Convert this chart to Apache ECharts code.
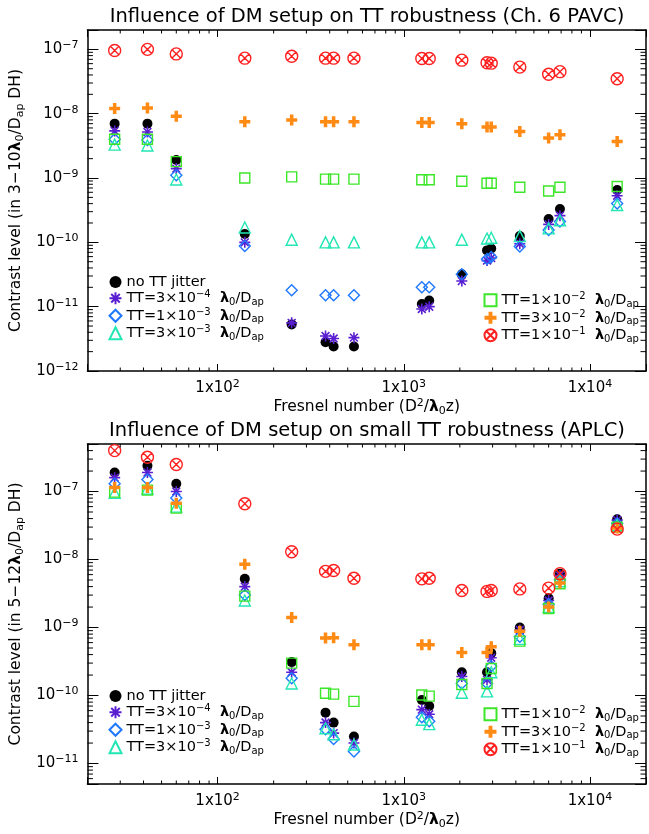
<!DOCTYPE html>
<html><head><meta charset="utf-8">
<script src="https://cdn.jsdelivr.net/npm/echarts@6/dist/echarts.min.js"></script>
<style>html,body{margin:0;padding:0;background:#fff}#c{width:649px;height:834px}</style>
</head><body><div id="c"></div>
<script>
// ---------- data ----------
const fresnel = [28, 42, 60, 140, 250, 380, 420, 540, 1250, 1370, 2050, 2800, 2950, 4200, 6000, 6900, 14000];
const seriesNames = ['no TT jitter', 'TT=3e-4', 'TT=1e-3', 'TT=3e-3', 'TT=1e-2', 'TT=3e-2', 'TT=1e-1'];

// Top panel (Ch. 6 PAVC)
const pavcNoTT  = [7.0e-9, 7.0e-9, 1.9e-9, 1.35e-10, 5.3e-12, 2.8e-12, 2.4e-12, 2.4e-12, 1.1e-11, 1.25e-11, 3.2e-11, 7.5e-11, 8.0e-11, 1.25e-10, 2.3e-10, 3.3e-10, 6.5e-10];
const pavcTT3e4 = [5.4e-9, 5.2e-9, 1.4e-9, 1.0e-10, 5.6e-12, 3.5e-12, 3.2e-12, 3.3e-12, 9.2e-12, 1.0e-11, 2.5e-11, 5.2e-11, 5.7e-11, 9.5e-11, 1.9e-10, 2.6e-10, 5.3e-10];
const pavcTT1e3 = [4.0e-9, 3.9e-9, 1.1e-9, 8.8e-11, 1.8e-11, 1.5e-11, 1.5e-11, 1.5e-11, 2.0e-11, 2.0e-11, 3.2e-11, 5.5e-11, 5.9e-11, 8.6e-11, 1.55e-10, 2.1e-10, 4.0e-10];
const pavcTT3e3 = [3.3e-9, 3.2e-9, 9.5e-10, 1.7e-10, 1.1e-10, 1.0e-10, 1.0e-10, 1.0e-10, 1.0e-10, 1.0e-10, 1.1e-10, 1.15e-10, 1.18e-10, 1.25e-10, 1.65e-10, 2.2e-10, 3.8e-10];
const pavcTT1e2 = [4.0e-9, 4.0e-9, 1.8e-9, 1.0e-9, 1.04e-9, 9.6e-10, 9.6e-10, 9.6e-10, 9.4e-10, 9.4e-10, 8.9e-10, 8.3e-10, 8.3e-10, 7.2e-10, 6.3e-10, 7.2e-10, 7.4e-10];
const pavcTT3e2 = [1.2e-8, 1.23e-8, 9.1e-9, 7.5e-9, 8.0e-9, 7.5e-9, 7.5e-9, 7.5e-9, 7.3e-9, 7.3e-9, 7.0e-9, 6.2e-9, 6.2e-9, 5.3e-9, 4.2e-9, 4.7e-9, 3.7e-9];
const pavcTT1e1 = [9.6e-8, 1.0e-7, 8.5e-8, 7.3e-8, 7.8e-8, 7.3e-8, 7.3e-8, 7.3e-8, 7.2e-8, 7.2e-8, 6.8e-8, 6.2e-8, 6.1e-8, 5.3e-8, 4.1e-8, 4.5e-8, 3.5e-8];

// Bottom panel (APLC)
const aplcNoTT  = [1.9e-7, 2.4e-7, 1.3e-7, 5.2e-9, 3.1e-10, 5.6e-11, 4.0e-11, 2.5e-11, 8.6e-11, 7.0e-11, 2.2e-10, 2.2e-10, 4.2e-10, 1.0e-9, 2.7e-9, 6.2e-9, 3.9e-8];
const aplcTT3e4 = [1.6e-7, 1.9e-7, 1.0e-7, 4.0e-9, 2.2e-10, 4.0e-11, 2.8e-11, 2.0e-11, 6.2e-11, 5.3e-11, 1.9e-10, 1.7e-10, 3.6e-10, 9.2e-10, 2.5e-9, 5.8e-9, 3.8e-8];
const aplcTT1e3 = [1.3e-7, 1.5e-7, 8.0e-8, 3.0e-9, 1.8e-10, 3.2e-11, 2.3e-11, 1.5e-11, 4.8e-11, 4.2e-11, 1.5e-10, 1.5e-10, 2.7e-10, 7.3e-10, 2.2e-9, 5.0e-9, 3.4e-8];
const aplcTT3e3 = [9.6e-8, 1.1e-7, 6.0e-8, 2.5e-9, 1.5e-10, 3.3e-11, 2.7e-11, 1.9e-11, 4.4e-11, 3.8e-11, 1.1e-10, 1.15e-10, 2.2e-10, 6.8e-10, 2.0e-9, 4.8e-9, 3.2e-8];
const aplcTT1e2 = [9.8e-8, 1.05e-7, 5.7e-8, 2.9e-9, 3.0e-10, 1.08e-10, 1.05e-10, 8.2e-11, 1.02e-10, 9.8e-11, 1.45e-10, 1.5e-10, 2.5e-10, 6.3e-10, 1.9e-9, 4.4e-9, 3.0e-8];
const aplcTT3e2 = [1.15e-7, 1.15e-7, 6.7e-8, 8.5e-9, 1.4e-9, 7.0e-10, 7.1e-10, 5.6e-10, 5.6e-10, 5.6e-10, 4.3e-10, 4.3e-10, 5.2e-10, 8.8e-10, 2.0e-9, 4.5e-9, 2.9e-8];
const aplcTT1e1 = [4.0e-7, 3.2e-7, 2.5e-7, 6.6e-8, 1.3e-8, 6.7e-9, 6.9e-9, 5.3e-9, 5.2e-9, 5.3e-9, 3.5e-9, 3.4e-9, 3.5e-9, 3.7e-9, 3.8e-9, 6.2e-9, 2.8e-8];

// Axis ranges
const xRange = [20, 20000];
const yRangeTop = [1e-12, 2e-7];
const yRangeBottom = [5e-12, 5e-7];

// ---------- styling ----------
const FONT = 'DejaVu Sans';
const colors = ['#000000', '#5A1ED2', '#1E78FF', '#22E6B4', '#3CE628', '#FF8A14', '#FF2020'];
const P_AST = 'path://M0,-10L0,10M-10,0L10,0M-7.1,-7.1L7.1,7.1M7.1,-7.1L-7.1,7.1';
const P_PLUS = 'path://M-3.2,-10L3.2,-10L3.2,-3.2L10,-3.2L10,3.2L3.2,3.2L3.2,10L-3.2,10L-3.2,3.2L-10,3.2L-10,-3.2L-3.2,-3.2Z';
const P_OTIMES = 'path://M10,0A10,10,0,1,1,-10,0A10,10,0,1,1,10,0ZM-6.6,-6.6L6.6,6.6M6.6,-6.6L-6.6,6.6';
const symbolDefs = [
  {symbol: 'circle', size: 10, itemStyle: {color: colors[0], opacity: 1}},
  {symbol: P_AST, size: 11, itemStyle: {color: 'none', borderColor: colors[1], borderWidth: 1.6, opacity: 1}},
  {symbol: 'diamond', size: 11, itemStyle: {color: 'none', borderColor: colors[2], borderWidth: 1.4, opacity: 1}},
  {symbol: 'triangle', size: 11, itemStyle: {color: 'none', borderColor: colors[3], borderWidth: 1.4, opacity: 1}},
  {symbol: 'rect', size: 10, itemStyle: {color: 'none', borderColor: colors[4], borderWidth: 1.4, opacity: 1}},
  {symbol: P_PLUS, size: 11, itemStyle: {color: colors[5], opacity: 1}},
  {symbol: P_OTIMES, size: 12, itemStyle: {color: 'none', borderColor: colors[6], borderWidth: 1.4, opacity: 1}}
];

function rich(fs) {
  const sfs = Math.round(fs * 0.72);
  return {
    n: {fontFamily: FONT, fontSize: fs, color: '#000', lineHeight: fs + 3},
    l: {fontFamily: FONT, fontSize: fs, fontWeight: 'bold', color: '#000', lineHeight: fs + 3},
    sup: {fontFamily: FONT, fontSize: sfs, color: '#000', lineHeight: fs + 3, verticalAlign: 'top'},
    sub: {fontFamily: FONT, fontSize: sfs, color: '#000', lineHeight: fs + 3, verticalAlign: 'bottom'}
  };
}
const lam = '{l|λ}{sub|0}{n|/D}{sub|ap}';
const legendLabels = {
  'no TT jitter': '{n|no TT jitter}',
  'TT=3e-4': '{n|TT=3×10}{sup|−4}{n|  }' + lam,
  'TT=1e-3': '{n|TT=1×10}{sup|−3}{n|  }' + lam,
  'TT=3e-3': '{n|TT=3×10}{sup|−3}{n|  }' + lam,
  'TT=1e-2': '{n|TT=1×10}{sup|−2}{n|  }' + lam,
  'TT=3e-2': '{n|TT=3×10}{sup|−2}{n|  }' + lam,
  'TT=1e-1': '{n|TT=1×10}{sup|−1}{n|  }' + lam
};

function isPow10(v) { const e = Math.log10(v); return Math.abs(e - Math.round(e)) < 1e-6 ? Math.round(e) : null; }
const labelRich = {
  b: {fontFamily: FONT, fontSize: 15, color: '#000', lineHeight: 19},
  s: {fontFamily: FONT, fontSize: 11, color: '#000', lineHeight: 19, verticalAlign: 'top'}
};
function yLabel(v) { const e = isPow10(v); return e === null ? '' : '{b|10}{s|' + (e < 0 ? '−' : '') + Math.abs(e) + '}'; }
function xLabel(v) { const e = isPow10(v); return e === null ? '' : '{b|1x10}{s|' + e + '}'; }

function minorValues(lo, hi) {
  const out = [];
  for (let k = Math.floor(Math.log10(lo)); k <= Math.ceil(Math.log10(hi)); k++) {
    for (let m = 2; m <= 9; m++) {
      const v = m * Math.pow(10, k);
      if (v > lo * 1.0001 && v < hi * 0.9999) out.push(v);
    }
  }
  return out;
}

// Minor ticks (2..9 per decade) drawn as thin rect symbols of scatter series, placed by the axes' scales
function minorTickSeries(xi, yi, xr, yr) {
  const xv = minorValues(xr[0], xr[1]);
  const yv = minorValues(yr[0], yr[1]);
  const mk = (data, size, offset) => ({
    type: 'scatter', xAxisIndex: xi, yAxisIndex: yi, silent: true, clip: false, z: 6,
    symbol: 'rect', symbolSize: size, symbolOffset: offset,
    itemStyle: {color: '#000', opacity: 1}, data
  });
  return [
    mk(xv.map(v => [v, yr[0]]), [1, 3.5], [0, -1.75]),
    mk(xv.map(v => [v, yr[1]]), [1, 3.5], [0, 1.75]),
    mk(yv.map(v => [xr[0], v]), [5.5, 1], [2.75, 0]),
    mk(yv.map(v => [xr[1], v]), [5.5, 1], [-2.75, 0])
  ];
}

function scatterSeries(xi, yi, arrays) {
  return arrays.map((arr, k) => ({
    type: 'scatter', name: seriesNames[k], xAxisIndex: xi, yAxisIndex: yi,
    symbol: symbolDefs[k].symbol, symbolSize: symbolDefs[k].size,
    itemStyle: symbolDefs[k].itemStyle, silent: true, z: 3 + k * 0.01,
    data: fresnel.map((x, i) => [x, arr[i]])
  }));
}

const axisLine = {show: true, onZero: false, lineStyle: {color: '#000', width: 1.5}};
function xAxes(gi) {
  return [
    {type: 'log', gridIndex: gi, min: xRange[0], max: xRange[1], position: 'bottom',
     axisLine, axisTick: {show: true, inside: true, length: 7, lineStyle: {color: '#000'}},
     splitLine: {show: false}, minorTick: {show: false},
     axisLabel: {formatter: xLabel, rich: labelRich, margin: 8},
     name: '{n|Fresnel number (D}{sup|2}{n|/}{l|λ}{sub|0}{n|z)}', nameLocation: 'middle', nameGap: 27,
     nameTextStyle: {rich: rich(15.5)}},
    {type: 'log', gridIndex: gi, min: xRange[0], max: xRange[1], position: 'top',
     axisLine, axisTick: {show: true, inside: true, length: 7, lineStyle: {color: '#000'}},
     splitLine: {show: false}, axisLabel: {show: false}}
  ];
}
function yAxes(gi, yr, nm) {
  return [
    {type: 'log', gridIndex: gi, min: yr[0], max: yr[1], position: 'left',
     axisLine, axisTick: {show: true, inside: true, length: 11, lineStyle: {color: '#000'}},
     splitLine: {show: false},
     axisLabel: {formatter: yLabel, rich: labelRich, margin: 9},
     name: nm, nameLocation: 'middle', nameGap: 58, nameRotate: 90,
     nameTextStyle: {rich: rich(15.5)}},
    {type: 'log', gridIndex: gi, min: yr[0], max: yr[1], position: 'right',
     axisLine, axisTick: {show: true, inside: true, length: 11, lineStyle: {color: '#000'}},
     splitLine: {show: false}, axisLabel: {show: false}}
  ];
}

function legends(topLeft, topRight) {
  const common = {orient: 'vertical', itemWidth: 12, itemHeight: 12, itemGap: 0,
    selectedMode: false, formatter: n => legendLabels[n], textStyle: {rich: rich(14.5)}, padding: 0};
  return [
    Object.assign({left: 107, top: topLeft, data: seriesNames.slice(0, 4)}, common),
    Object.assign({left: 482, top: topRight, data: seriesNames.slice(4)}, common)
  ];
}

const chart = echarts.init(document.getElementById('c'), null, {renderer: 'canvas'});
chart.setOption({
  animation: false,
  backgroundColor: '#fff',
  title: [
    {text: 'Influence of DM setup on TT robustness (Ch. 6 PAVC)', left: 362, top: 2, textAlign: 'center',
     textStyle: {fontFamily: FONT, fontSize: 19.5, fontWeight: 'normal', color: '#000'}},
    {text: 'Influence of DM setup on small TT robustness (APLC)', left: 362, top: 416, textAlign: 'center',
     textStyle: {fontFamily: FONT, fontSize: 19.5, fontWeight: 'normal', color: '#000'}}
  ],
  grid: [
    {left: 84, top: 30, width: 565, height: 341},
    {left: 84, top: 444, width: 565, height: 340}
  ],
  xAxis: [].concat(xAxes(0), xAxes(1)),
  yAxis: [].concat(
    yAxes(0, yRangeTop, '{n|Contrast level (in 3−10}{l|λ}{sub|0}{n|/D}{sub|ap}{n| DH)}'),
    yAxes(1, yRangeBottom, '{n|Contrast level (in 5−12}{l|λ}{sub|0}{n|/D}{sub|ap}{n| DH)}')
  ),
  legend: [].concat(legends(274.5, 291.5), legends(688.5, 705.5)),
  series: [].concat(
    scatterSeries(0, 0, [pavcNoTT, pavcTT3e4, pavcTT1e3, pavcTT3e3, pavcTT1e2, pavcTT3e2, pavcTT1e1]),
    scatterSeries(2, 2, [aplcNoTT, aplcTT3e4, aplcTT1e3, aplcTT3e3, aplcTT1e2, aplcTT3e2, aplcTT1e1]),
    minorTickSeries(0, 0, xRange, yRangeTop),
    minorTickSeries(2, 2, xRange, yRangeBottom)
  )
});
</script>
</body></html>
